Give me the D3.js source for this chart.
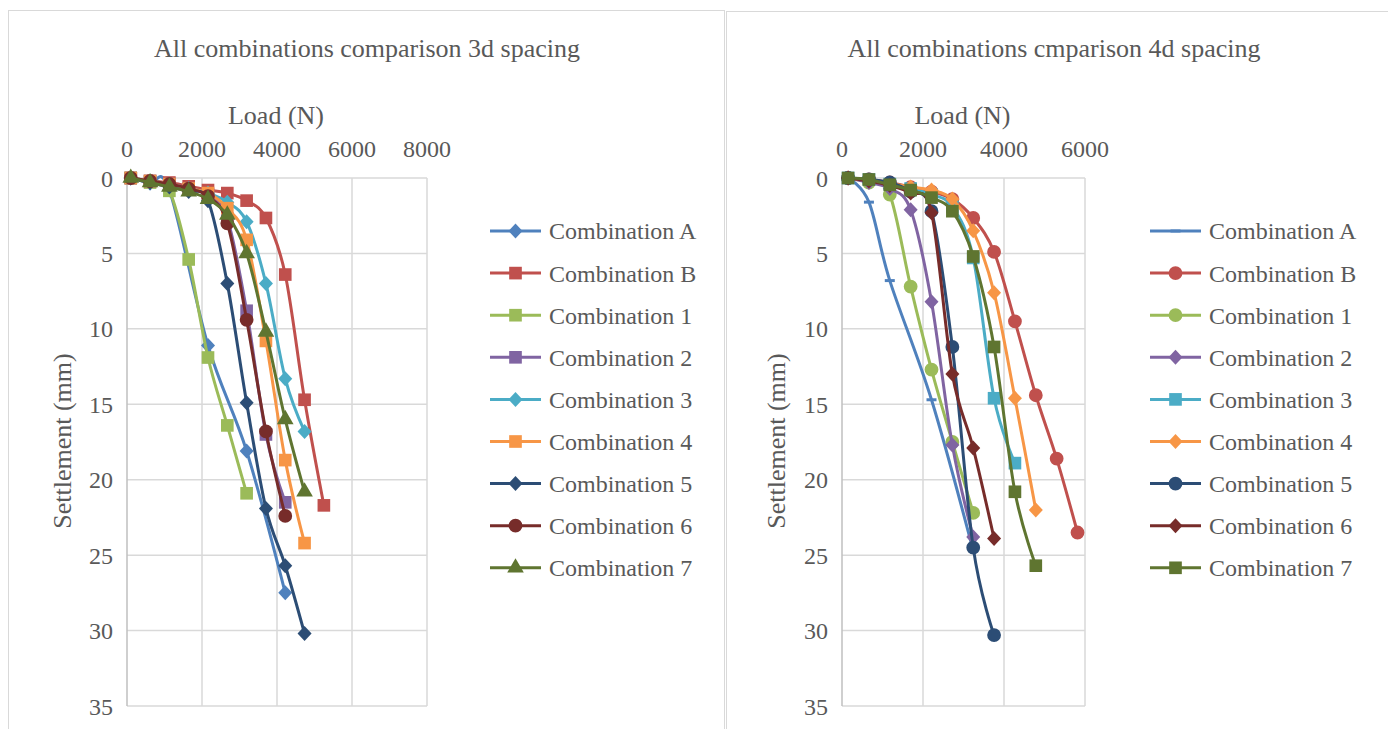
<!DOCTYPE html>
<html>
<head>
<meta charset="utf-8">
<script src="https://cdn.jsdelivr.net/npm/d3@7"></script>
<style>
  body { margin: 0; background: #fff; }
  svg text { font-family: "Liberation Serif", "Times New Roman", Tinos, "Noto Serif", FreeSerif, "DejaVu Serif", serif; fill: #595959; }
</style>
</head>
<body>
<svg id="chart" width="1388" height="729"></svg>
<script>
// series names and colours (same order in both charts)
const seriesNames = ["Combination A", "Combination B", "Combination 1", "Combination 2",
    "Combination 3", "Combination 4", "Combination 5", "Combination 6", "Combination 7"];
const seriesColors = ["#4F81BD", "#C0504D", "#9BBB59", "#8064A2", "#4BACC6",
    "#F79646", "#2C4D75", "#772C2A", "#5F7530"];

// 3d spacing
const load3d = [100, 615, 1130, 1645, 2160, 2675, 3190, 3705, 4220, 4735, 5250];
const settle3dA = [0, 0.35, 0.8, null, 11.1, null, 18.1, null, 27.5];
const settle3dB = [0, 0.2, 0.3, 0.55, 0.8, 1.0, 1.5, 2.65, 6.4, 14.7, 21.7];
const settle3d1 = [0, 0.3, 0.85, 5.4, 11.9, 16.4, 20.9];
const settle3d2 = [0, 0.2, 0.4, 0.7, 1.1, 2.7, 8.8, 17.0, 21.5];
const settle3d3 = [0, 0.2, 0.4, 0.7, 1.0, 1.6, 2.9, 7.0, 13.3, 16.8];
const settle3d4 = [0, 0.2, 0.4, 0.7, 1.0, 2.0, 4.1, 10.8, 18.7, 24.2];
const settle3d5 = [0, 0.3, 0.6, 0.9, 1.5, 7.0, 14.9, 21.9, 25.7, 30.2];
const settle3d6 = [0, 0.2, 0.4, 0.7, 1.2, 3.0, 9.4, 16.8, 22.4];
const settle3d7 = [0, 0.3, 0.6, 0.9, 1.4, 2.45, 5.0, 10.2, 16.0, 20.8];
const markers3d = ["diamond", "square", "square", "square", "diamond", "square", "diamond", "circle", "triangle"];

// 4d spacing
const load4d = [150, 665, 1180, 1695, 2210, 2725, 3240, 3755, 4270, 4785, 5300, 5815];
const settle4dA = [0, 1.6, 6.8, null, 14.7, null, 24.7];
const settle4dB = [0, 0.1, 0.3, 0.6, 0.9, 1.4, 2.65, 4.9, 9.5, 14.4, 18.6, 23.5];
const settle4d1 = [0, 0.3, 1.1, 7.2, 12.7, 17.5, 22.2];
const settle4d2 = [0, 0.3, 0.7, 2.1, 8.2, 17.7, 23.8];
const settle4d3 = [0, 0.1, 0.4, 0.7, 1.1, 1.9, 5.3, 14.6, 18.9];
const settle4d4 = [0, 0.15, 0.35, 0.6, 0.8, 1.4, 3.5, 7.6, 14.6, 22.0];
const settle4d5 = [0, 0.1, 0.3, 0.9, 2.2, 11.2, 24.5, 30.3];
const settle4d6 = [0, 0.2, 0.5, 1.0, 2.3, 13.0, 17.9, 23.9];
const settle4d7 = [0, 0.1, 0.45, 0.8, 1.3, 2.2, 5.2, 11.2, 20.8, 25.7];
const markers4d = ["dash", "circle", "circle", "diamond", "square", "diamond", "circle", "diamond", "square"];

const xTicks3d = [0, 2000, 4000, 6000, 8000];
const xTicks4d = [0, 2000, 4000, 6000];
const yTicks = [0, 5, 10, 15, 20, 25, 30, 35];

const svg = d3.select("#chart");

// panel frames
svg.append("rect").attr("x", 8.5).attr("y", 10.5).attr("width", 716).attr("height", 740)
    .attr("fill", "#fff").attr("stroke", "#d9d9d9");
svg.append("rect").attr("x", 726.5).attr("y", 11.5).attr("width", 662).attr("height", 740)
    .attr("fill", "#fff").attr("stroke", "#d9d9d9");

drawChart({
    title: "All combinations comparison 3d spacing", titleX: 367,
    x0: 127, x1: 427, xMax: 8000, xTicks: xTicks3d, axisTitleX: 62,
    loads: load3d,
    settles: [settle3dA, settle3dB, settle3d1, settle3d2, settle3d3, settle3d4, settle3d5, settle3d6, settle3d7],
    markers: markers3d, legendX: 490
});

drawChart({
    title: "All combinations cmparison 4d spacing", titleX: 1054,
    x0: 842, x1: 1085, xMax: 6000, xTicks: xTicks4d, axisTitleX: 776,
    loads: load4d,
    settles: [settle4dA, settle4dB, settle4d1, settle4d2, settle4d3, settle4d4, settle4d5, settle4d6, settle4d7],
    markers: markers4d, legendX: 1150
});

function markerPath(type) {
    if (type === "square") return d3.symbol(d3.symbolSquare, 160)();
    if (type === "circle") return d3.symbol(d3.symbolCircle, 150)();
    if (type === "triangle") return d3.symbol(d3.symbolTriangle, 120)();
    if (type === "diamond") return "M0,-7.5L7,0L0,7.5L-7,0Z";
    return "M-5,-1.5H5V1.5H-5Z"; // dash
}

function drawChart(c) {
    const x = d3.scaleLinear().domain([0, c.xMax]).range([c.x0, c.x1]);
    const y = d3.scaleLinear().domain([0, 35]).range([178, 706]);
    const g = svg.append("g");

    // grid
    g.append("g").selectAll("line.h").data(yTicks).join("line")
        .attr("x1", c.x0).attr("x2", c.x1)
        .attr("y1", d => y(d)).attr("y2", d => y(d))
        .attr("stroke", "#d9d9d9").attr("stroke-width", 1.5);
    g.append("g").selectAll("line.v").data(c.xTicks).join("line")
        .attr("x1", d => x(d)).attr("x2", d => x(d))
        .attr("y1", y(0)).attr("y2", y(35))
        .attr("stroke", d => d === 0 ? "#bfbfbf" : "#d9d9d9").attr("stroke-width", 1.5);

    // tick labels
    g.append("g").selectAll("text").data(c.xTicks).join("text")
        .attr("x", d => x(d)).attr("y", 157)
        .attr("text-anchor", "middle").attr("font-size", 24)
        .text(d => d);
    g.append("g").selectAll("text").data(yTicks).join("text")
        .attr("x", c.x0 - 14).attr("y", d => y(d)).attr("dy", "0.36em")
        .attr("text-anchor", "end").attr("font-size", 24)
        .text(d => d);

    // titles
    g.append("text").attr("x", c.titleX).attr("y", 57)
        .attr("text-anchor", "middle").attr("font-size", 26).text(c.title);
    g.append("text").attr("x", (c.x0 + c.x1) / 2 - 1).attr("y", 124)
        .attr("text-anchor", "middle").attr("font-size", 26).text("Load (N)");
    g.append("text")
        .attr("transform", `translate(${c.axisTitleX},441) rotate(-90)`)
        .attr("dy", "0.35em")
        .attr("text-anchor", "middle").attr("font-size", 26).text("Settlement (mm)");

    const line = d3.line()
        .x(d => x(d[0]))
        .y(d => y(d[1]))
        .curve(d3.curveCatmullRom.alpha(0));

    c.settles.forEach((s, i) => {
        const pts = [];
        s.forEach((v, j) => { if (v !== null) pts.push([c.loads[j], v]); });
        const color = seriesColors[i];
        g.append("path").datum(pts)
            .attr("fill", "none").attr("stroke", color).attr("stroke-width", 3)
            .attr("d", line);
        g.append("g").selectAll("path").data(pts).join("path")
            .attr("transform", d => `translate(${x(d[0])},${y(d[1])})`)
            .attr("d", markerPath(c.markers[i]))
            .attr("fill", color);
    });

    // legend
    const lg = g.append("g");
    seriesNames.forEach((name, i) => {
        const ly = 231 + i * 42.1;
        lg.append("line").attr("x1", c.legendX).attr("x2", c.legendX + 51)
            .attr("y1", ly).attr("y2", ly)
            .attr("stroke", seriesColors[i]).attr("stroke-width", 3);
        lg.append("path").attr("transform", `translate(${c.legendX + 25.5},${ly})`)
            .attr("d", markerPath(c.markers[i])).attr("fill", seriesColors[i]);
        lg.append("text").attr("x", c.legendX + 59).attr("y", ly).attr("dy", "0.35em")
            .attr("font-size", 24).text(name);
    });
}
</script>
</body>
</html>
